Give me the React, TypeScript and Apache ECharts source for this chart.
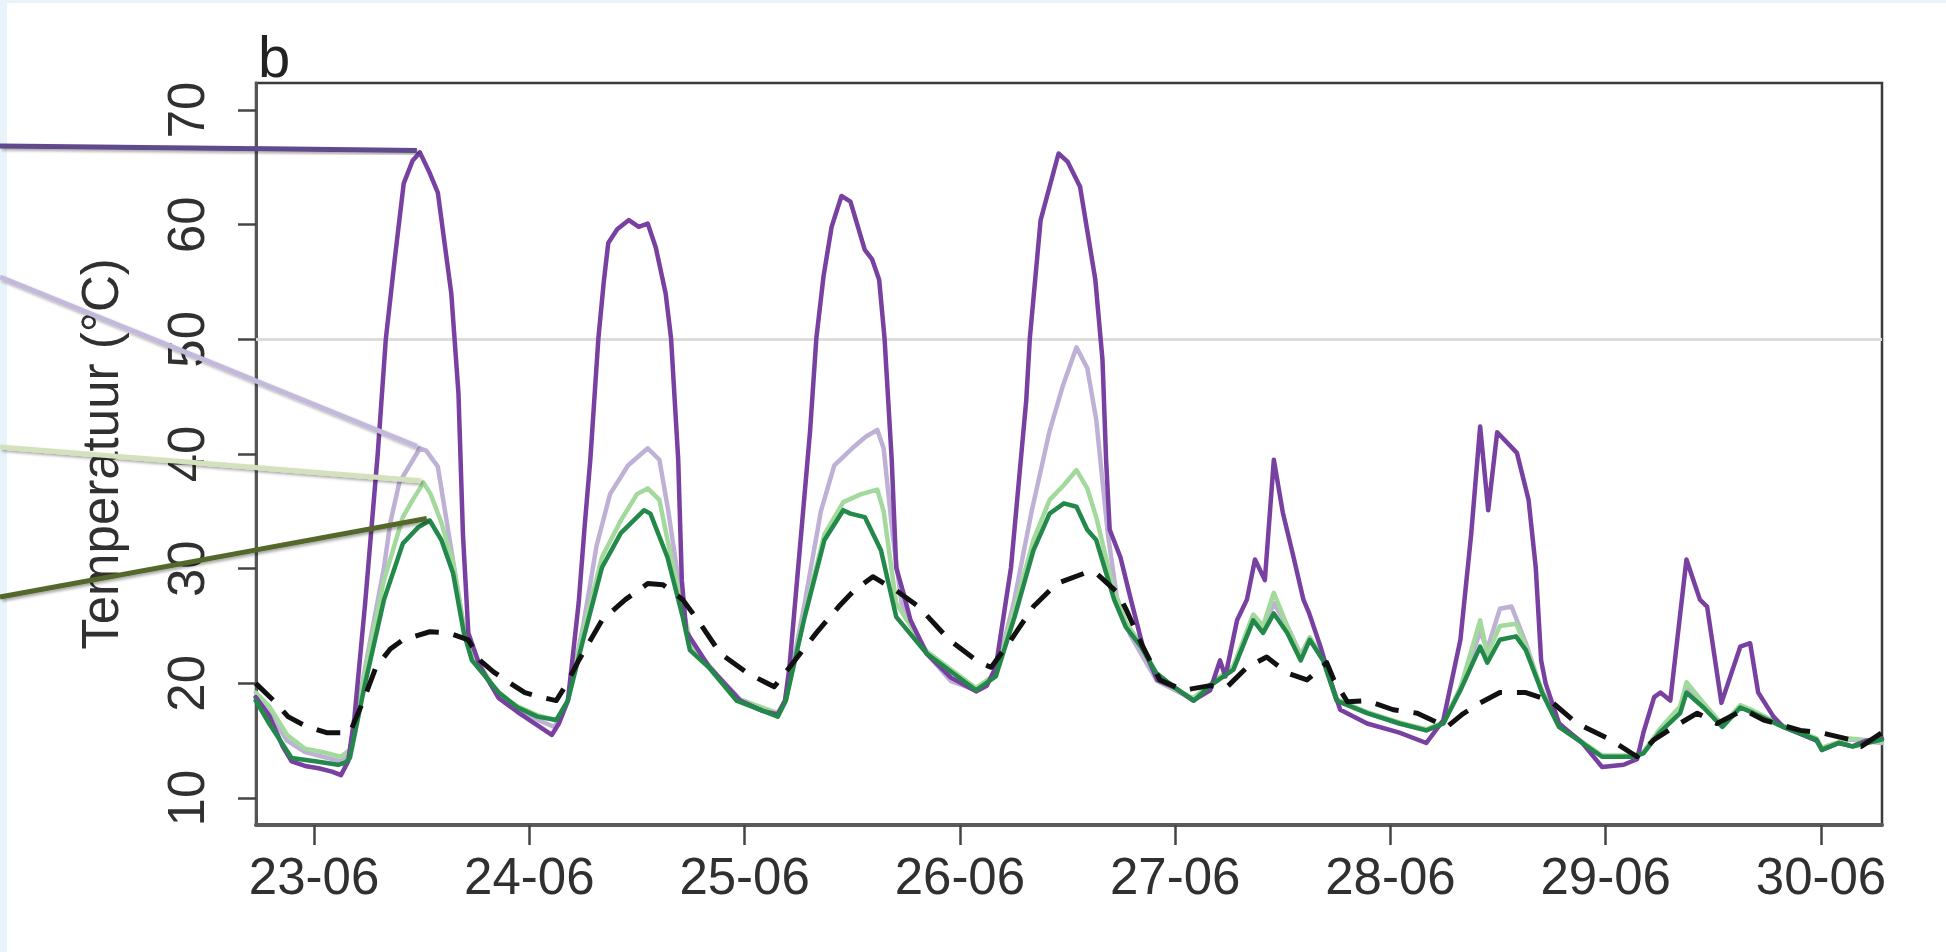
import { useEffect, useRef } from "react";
import * as echarts from "echarts";

// Hours since 23-06 00:00
const dayTicks = [0, 24, 48, 72, 96, 120, 144, 168];
const dayLabels = ["23-06", "24-06", "25-06", "26-06", "27-06", "28-06", "29-06", "30-06"];
const yTicks = [10, 20, 30, 40, 50, 60, 70];
const referenceLevel = 50;
const panelLabel = "b";
const yTitle = "Temperatuur (°C)";

const purple: [number, number][] = [
  [-6.5, 18.8], [-5, 17.2], [-3.5, 14.5], [-2.5, 13.2], [-1, 12.8], [0.5, 12.6], [2, 12.3], [3, 12.0], [3.8, 13.2], [4.5, 17],
  [5.7, 27], [7.1, 40], [8, 50], [9, 57], [10, 63.6], [11, 65.6], [11.8, 66.3], [12.9, 64.5], [13.8, 62.8], [15.3, 54],
  [16.1, 45.3], [16.6, 33], [17.2, 24.4], [18.5, 21.5], [20.6, 18.7], [22.7, 17.5], [25, 16.3], [26.5, 15.5], [27.3, 16.5], [28.3, 18.5],
  [29.5, 27], [30.2, 34], [30.8, 39.5], [31.7, 50.1], [32.3, 55], [32.8, 58.4], [33.8, 59.6], [35.1, 60.4], [36.2, 59.8], [37.2, 60.1],
  [38.1, 58], [39.2, 54], [39.8, 50.1], [40.6, 39.5], [41, 29], [41.5, 24.5], [44, 21.5], [47.5, 18.5], [50, 17.6], [51.7, 17.3],
  [52.5, 18.5], [53, 21.4], [54.3, 33], [55.3, 42], [56, 50.1], [56.8, 55.5], [57.7, 59.8], [58.8, 62.5], [59.8, 62], [61.4, 57.8],
  [62.2, 57], [63, 55.2], [63.6, 50.1], [64.4, 39.5], [64.9, 30.1], [65.7, 27.9], [66.5, 25.5], [68.3, 22.6], [71, 20.5], [73.8, 19.3],
  [75, 19.8], [76, 21.4], [77.7, 30.1], [79.4, 44.7], [79.8, 50.1], [81, 60.4], [83, 66.2], [84, 65.5], [85.4, 63.3], [87.1, 55.2],
  [87.9, 48.2], [88.3, 39.5], [88.7, 33.4], [89.9, 31], [91, 27.5], [92.4, 23.2], [94, 20.3], [96, 19.6], [98, 18.5], [99.9, 19.4],
  [101, 22], [101.6, 20.6], [102.9, 25.5], [104, 27.3], [104.9, 30.8], [106, 29], [107, 39.5], [108, 34.9], [109.2, 31], [110.3, 27.3],
  [110.9, 26.2], [112.2, 23.2], [113.3, 20.3], [114.4, 17.7], [117.4, 16.5], [121, 15.7], [124, 14.8], [125.9, 16.8], [127.8, 23.8], [129, 33],
  [130, 42.4], [130.9, 35.1], [131.9, 41.9], [134.1, 40.1], [135.4, 36], [136.2, 30.1], [136.8, 22], [137.3, 20], [138.8, 16.5], [141.4, 14.8],
  [143.6, 12.7], [146, 12.9], [147.5, 13.4], [148.2, 15.7], [149.4, 18.8], [150.1, 19.2], [151.2, 18.5], [153, 30.8], [154.5, 27.3], [155.3, 26.7],
  [156.9, 18.3], [159, 23.2], [160.1, 23.5], [161, 19.2], [162.7, 17.1], [163.8, 16.2], [165.7, 15.6], [167.5, 15], [168.1, 14.2], [170, 14.8],
  [171.5, 14.5], [173, 15], [174.8, 15.2],
];

const lavender: [number, number][] = [
  [-6.5, 18.8], [-5, 17.5], [-3, 15], [-1, 14], [1, 13.6], [3, 13.2], [4, 14], [5.7, 21.4], [7.8, 30.1], [8.5, 34],
  [9.5, 37.5], [10.5, 38.8], [11.8, 40.5], [12.5, 40.3], [13.8, 38.9], [15, 33.1], [16.8, 24.4], [18, 22], [20.6, 18.8], [22.7, 17.8],
  [25, 16.8], [26.8, 16.2], [28.3, 18.5], [30, 25], [31.5, 32], [33, 36.5], [35, 39], [37.2, 40.5], [38.5, 39.5], [39.5, 35],
  [41, 27], [42, 23], [44, 21.5], [47.5, 18.6], [51.7, 17.3], [52.6, 18.5], [54.7, 27], [56.5, 35], [58, 39], [60, 40.5],
  [61.5, 41.5], [62.8, 42.1], [63.5, 40.5], [64.5, 33], [65.5, 27], [68.3, 22.6], [71, 20.2], [73.8, 19.4], [76, 20.8], [78, 27],
  [80, 35], [82, 42], [83.5, 46], [85, 49.3], [86.2, 47.5], [87.2, 43], [88.5, 33], [89.5, 27.5], [91, 24.2], [93, 21.5],
  [94, 20.2], [98, 18.6], [99.9, 19.8], [102.5, 21.5], [104.7, 25.5], [105.8, 24.6], [107, 27], [108.5, 25], [110, 22.5], [111, 24],
  [112.5, 22], [114, 18.5], [117.4, 17.4], [121, 16.5], [124, 15.9], [125.9, 16.5], [127.8, 19.6], [130, 24.5], [130.8, 23], [132.2, 26.5],
  [133.5, 26.7], [135.1, 23.5], [136.9, 19.2], [138.8, 16.2], [141.4, 14.8], [143.6, 13.6], [147, 13.6], [148.2, 14], [150, 15.9], [152.3, 17.8],
  [153, 19.6], [154.9, 18.2], [157, 16.3], [159, 18], [160.5, 17.5], [163.8, 16.2], [167.5, 15.1], [168.1, 14.3], [171.2, 15.1], [174.8, 14.8],
];

const lightGreen: [number, number][] = [
  [-6.5, 19.2], [-5, 18], [-3, 15.5], [-1, 14.3], [1, 14], [3, 13.6], [4, 14.2], [5.7, 21], [7.8, 29], [9.9, 34.5],
  [11, 36], [12.2, 37.5], [13, 36.5], [14.2, 34], [15.5, 30.5], [16.8, 24.4], [18, 22.2], [20.6, 19], [22.7, 18], [25, 17.2],
  [27, 16.8], [28.3, 18.5], [30, 24.5], [32.1, 31], [34.2, 34.2], [36, 36.5], [37.2, 37], [38.5, 36], [39.4, 32.5], [41.1, 26.5],
  [42, 23.5], [44, 21.6], [47.1, 18.7], [51.7, 17.4], [52.6, 18.6], [54.7, 26], [56.9, 33], [59, 35.8], [61, 36.5], [62.8, 36.9],
  [63.5, 35], [64.9, 27], [68.3, 22.8], [73.8, 19.6], [76, 20.8], [78.1, 26.5], [80.2, 32.5], [82, 36], [83.6, 37.3], [85, 38.6],
  [86.2, 37], [87.2, 34.5], [89.2, 28], [90.5, 25.3], [92.2, 23.4], [94, 20.3], [98, 18.7], [99.9, 19.9], [102.5, 21.5], [104.7, 26],
  [105.8, 25], [107, 27.9], [108.5, 25], [110, 22.3], [111, 24], [112.5, 22.2], [114, 18.6], [117.4, 17.5], [121, 16.6], [124, 16],
  [125.9, 16.6], [127.8, 19.6], [130, 25.5], [130.8, 22.5], [132.2, 25], [134, 25.2], [135.1, 23.2], [136.9, 19.4], [138.8, 16.3], [141.4, 14.9],
  [143.6, 13.7], [147, 13.7], [148.2, 14], [150, 16], [152.3, 18], [153, 20.1], [154.9, 18.3], [157, 16.4], [159, 18.1], [160.5, 17.6],
  [163.8, 16.3], [167.5, 15.2], [168.1, 14.4], [171.2, 15.2], [174.8, 14.9],
];

const darkGreen: [number, number][] = [
  [-6.5, 18.5], [-5, 16.5], [-2.5, 13.5], [0.1, 13.2], [2.7, 12.9], [3.5, 13.1], [4, 13.5], [5.7, 20], [7.8, 27.3], [9.9, 32.2],
  [11.6, 33.6], [12.9, 34.2], [14.2, 32.5], [15.5, 29.6], [16.7, 24.4], [17.6, 22], [20.6, 19.2], [22.7, 17.9], [24.9, 17.1], [27, 16.8],
  [28.3, 18.5], [30, 23.8], [32.1, 30.1], [34.2, 33.1], [36.8, 35.1], [37.5, 34.8], [39.4, 31], [41.1, 25.8], [41.9, 22.9], [44, 21.4],
  [47.1, 18.5], [51.7, 17.1], [52.6, 18.5], [54.7, 25.8], [56.9, 32.5], [59, 35.1], [59.8, 34.8], [61.4, 34.5], [63.2, 31.6], [64.9, 25.8],
  [68.3, 22.6], [73.8, 19.4], [76, 20.6], [78.1, 25.8], [80.2, 31.6], [82, 34.8], [83.6, 35.7], [85, 35.4], [86.2, 33.4], [87.2, 32.5],
  [89.2, 27.3], [90.5, 24.9], [92.2, 23.2], [93.9, 20.9], [96, 19.6], [98.1, 18.5], [99.9, 19.8], [102.5, 21.2], [104.7, 25.5], [105.8, 24.4],
  [107, 26.1], [108.5, 24.4], [110, 22], [111, 23.8], [112.5, 22], [114, 18.5], [117.4, 17.4], [121, 16.5], [124, 15.9], [125.9, 16.5],
  [127.8, 19.4], [130, 23.2], [130.8, 21.8], [132.2, 23.8], [134, 24.1], [135.1, 22.9], [136.9, 19.2], [138.8, 16.2], [141.4, 14.8], [143.6, 13.6],
  [147, 13.6], [148.2, 13.9], [150, 15.7], [152.3, 17.4], [153, 19.2], [154.9, 17.9], [157, 16.2], [159, 17.9], [160.5, 17.4], [163.8, 16.2],
  [167.5, 15.1], [168.1, 14.2], [170, 14.8], [171.5, 14.5], [174.8, 15.1],
];

const airTemp: [number, number][] = [
  [-6.5, 20], [-4.5, 18.5], [-2.9, 17.1], [-1, 16.3], [1.4, 15.7], [4, 15.7], [5.5, 18.5], [6.9, 21.4], [8.5, 23], [9.9, 23.8],
  [12.9, 24.5], [15, 24.4], [17.2, 23.8], [18.5, 22], [20, 21], [21.9, 20], [23.5, 19.2], [25.3, 18.8], [27, 18.5], [28.2, 20],
  [29.5, 22], [32.1, 25.5], [34.7, 27.3], [37.2, 28.7], [38.9, 28.6], [41.1, 27.3], [42.8, 25.5], [45.3, 22.6], [48.3, 20.9], [51.3, 19.7],
  [53.4, 21.8], [56, 24.4], [58.5, 26.7], [60.2, 28.1], [62.3, 29.3], [64.9, 28.1], [67.4, 26.7], [70.8, 23.8], [74.2, 21.8], [75.5, 21.4],
  [77.7, 23.8], [80.2, 26.7], [82.8, 28.7], [86.2, 29.7], [87.2, 29.6], [89.6, 27.9], [90.5, 26.5], [92.4, 23.2], [94.3, 20.3], [96.9, 19.4],
  [99.9, 19.8], [101.8, 19.7], [104, 21.4], [106.2, 22.3], [108.5, 20.9], [110.7, 20.3], [112.9, 21.8], [113.7, 20.3], [115.2, 18.4], [117.4, 18.5],
  [120.3, 17.7], [123, 17.4], [126.3, 16.2], [128, 17.3], [130, 18.3], [132.2, 19.2], [135.1, 19.2], [137.8, 18.5], [140.8, 16.5], [144.5, 15.1],
  [147.5, 13.6], [149.4, 15.1], [151.6, 16.2], [154.2, 17.4], [156.4, 16.5], [159.4, 17.7], [161.6, 16.8], [165.7, 15.9], [168, 15.7], [171.2, 15.1],
  [172.5, 14.5], [174.8, 15.7],
];

const FONT = "'Liberation Sans', Arial, Helvetica, sans-serif";
const TEXT = "#303030";

function firstDayPeak(s: [number, number][]): [number, number] {
  let best = s[0];
  for (const p of s) if (p[0] < 20 && p[1] > best[1]) best = p;
  return best;
}

export default function App() {
  const ref = useRef<HTMLDivElement>(null);

  useEffect(() => {
    const chart = echarts.init(ref.current!, null, { renderer: "svg" });
    const line = (name: string, data: [number, number][], color: string, width: number, z: number, extra: any = {}) => ({
      name,
      type: "line",
      data,
      showSymbol: false,
      symbol: "none",
      smooth: false,
      z,
      lineStyle: { color, width, join: "round", cap: "round", ...(extra.lineStyle || {}) },
      ...(extra.rest || {}),
    });

    chart.setOption({
      animation: false,
      backgroundColor: "#ffffff",
      grid: {
        left: 256,
        right: 64,
        top: 83,
        bottom: 127,
        show: true,
        borderColor: "#3a3a3a",
        borderWidth: 2.5,
        backgroundColor: "transparent",
      },
      xAxis: {
        type: "value",
        min: -6.47,
        max: 174.8,
        axisLine: { show: true, onZero: false, lineStyle: { color: "#5a5a5a", width: 4 } },
        axisTick: { show: true, customValues: dayTicks, length: 20, inside: false, lineStyle: { color: "#444", width: 2.5 } },
        axisLabel: {
          customValues: dayTicks,
          formatter: (v: number) => dayLabels[dayTicks.indexOf(Math.round(v))] ?? "",
          margin: 26,
          fontSize: 51,
          fontFamily: FONT,
          color: TEXT,
        },
        splitLine: { show: false },
      },
      yAxis: {
        type: "value",
        min: 7.65,
        max: 72.35,
        name: yTitle,
        nameLocation: "middle",
        nameGap: 130,
        nameRotate: 90,
        nameTextStyle: { fontSize: 51, fontFamily: FONT, color: TEXT },
        axisLine: { show: true, onZero: false, lineStyle: { color: "#555", width: 3 } },
        axisTick: { show: true, customValues: yTicks, length: 18, inside: false, lineStyle: { color: "#444", width: 2.5 } },
        axisLabel: {
          customValues: yTicks,
          rotate: 90,
          margin: 44,
          fontSize: 51,
          fontFamily: FONT,
          color: TEXT,
        },
        splitLine: { show: false },
      },
      series: [
        line("Lavendel", lavender, "#bfb1d6", 4.5, 2, {
          rest: {
            markLine: {
              silent: true,
              symbol: "none",
              label: { show: false },
              lineStyle: { color: "#dcdcdc", width: 3, type: "solid" },
              data: [{ yAxis: referenceLevel }],
              z: 1,
            },
          },
        }),
        line("Lichtgroen", lightGreen, "#a3d99c", 4.5, 3),
        line("Paars", purple, "#7840a0", 4.5, 4),
        line("Donkergroen", darkGreen, "#23894a", 4.5, 5),
        line("Luchttemperatuur", airTemp, "#111111", 5, 6, { lineStyle: { type: [24, 15], cap: "butt" } }),
      ],
    });

    const px = (p: [number, number]) => chart.convertToPixel({ gridIndex: 0 }, p) as number[];
    const callouts = [
      { from: 146, to: px(firstDayPeak(purple)), color: "#5e4b8b" },
      { from: 277, to: px(firstDayPeak(lavender)), color: "#c3b9db" },
      { from: 447, to: px(firstDayPeak(lightGreen)), color: "#d3e2bc" },
      { from: 597, to: px(firstDayPeak(darkGreen)), color: "#52672b" },
    ];

    chart.setOption({
      graphic: [
        { type: "rect", z: 0, silent: true, shape: { x: 0, y: 0, width: 7, height: 952 }, style: { fill: "#e8f3fb" } },
        { type: "rect", z: 0, silent: true, shape: { x: 0, y: 0, width: 1946, height: 3 }, style: { fill: "#e8f3fb" } },
        {
          type: "text",
          z: 10,
          x: 258,
          y: 56,
          style: { text: panelLabel, font: `58px ${FONT}`, fill: "#222", verticalAlign: "middle", align: "left" },
        },
        ...callouts.map((c) => ({
          type: "line",
          z: 100,
          silent: true,
          shape: { x1: 0, y1: c.from, x2: c.to[0] - 3, y2: c.to[1] - 2 },
          style: {
            stroke: c.color,
            lineWidth: 5,
            shadowBlur: 3,
            shadowColor: "rgba(0,0,0,0.35)",
            shadowOffsetX: 2,
            shadowOffsetY: 2,
          },
        })),
      ],
    });

    return () => chart.dispose();
  }, []);

  return (
    <div
      ref={ref}
      style={{ position: "absolute", left: 0, top: 0, width: 1946, height: 952, background: "#ffffff" }}
    />
  );
}
